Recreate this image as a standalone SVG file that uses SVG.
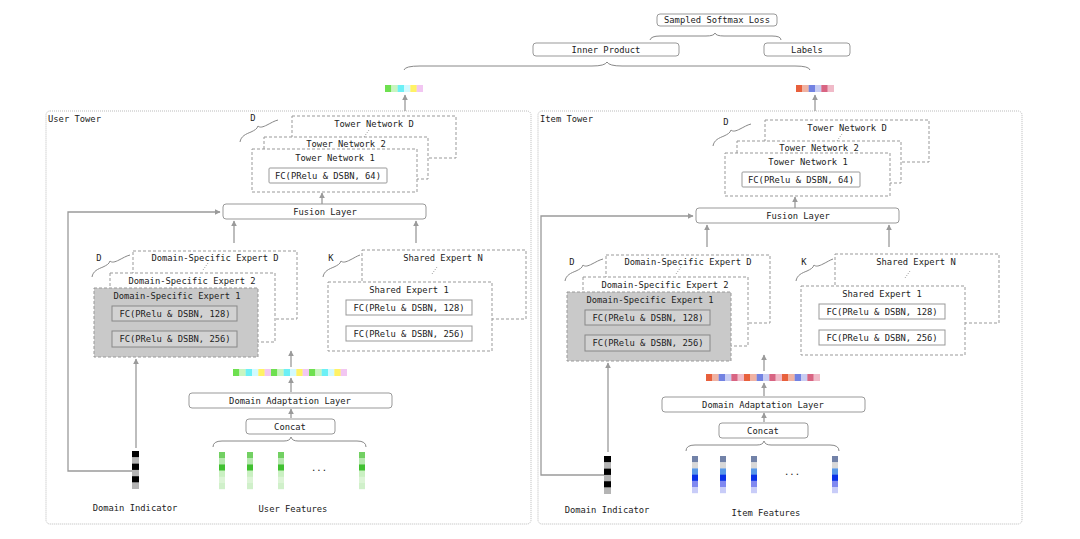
<svg xmlns="http://www.w3.org/2000/svg" xmlns:xlink="http://www.w3.org/1999/xlink" width="1080" height="539" viewBox="0 0 1080 539">
<style>
text{font-family:"DejaVu Sans Mono","Liberation Mono",monospace;font-size:8.8px;fill:#222;text-anchor:middle}
text.tl{text-anchor:start}
.frame{fill:none;stroke:#bbb;stroke-width:1;stroke-dasharray:1 1}
.box{fill:#fff;stroke:#999;stroke-width:1}
.dash{fill:#fff;stroke:#999;stroke-width:1;stroke-dasharray:3 2}
.gdash{fill:#c9c9c9;stroke:#999;stroke-width:1;stroke-dasharray:3 2}
.gbox{fill:#d2d2d2;stroke:#888;stroke-width:1}
.dots{fill:none;stroke:#999;stroke-width:1;stroke-dasharray:1 1.5}
.brace{fill:none;stroke:#888;stroke-width:1}
.arr{fill:none;stroke:#9a9a9a;stroke-width:1.3;marker-end:url(#ah)}
</style>
<defs>
<marker id="ah" viewBox="0 0 10 10" refX="9" refY="5" markerWidth="6" markerHeight="6" orient="auto" markerUnits="userSpaceOnUse"><path d="M0,0 L10,5 L0,10 z" fill="#9a9a9a"/></marker>
<g id="uvec"><rect x="0" y="0" width="6.5" height="7" fill="#6ee050"/><rect x="6.33" y="0" width="6.5" height="7" fill="#c8f5c0"/><rect x="12.67" y="0" width="6.5" height="7" fill="#6cf0f6"/><rect x="19" y="0" width="6.5" height="7" fill="#d2faff"/><rect x="25.33" y="0" width="6.5" height="7" fill="#fff266"/><rect x="31.67" y="0" width="6.33" height="7" fill="#f2c6f2"/></g>
<g id="ivec"><rect x="0" y="0" width="6.5" height="7" fill="#e8603c"/><rect x="6.33" y="0" width="6.5" height="7" fill="#f0b2a2"/><rect x="12.67" y="0" width="6.5" height="7" fill="#7282e2"/><rect x="19" y="0" width="6.5" height="7" fill="#c8ccf2"/><rect x="25.33" y="0" width="6.5" height="7" fill="#d86482"/><rect x="31.67" y="0" width="6.33" height="7" fill="#f0bac8"/></g>
<g id="ucol"><rect x="0" y="0" width="6" height="6.5" fill="#72d062"/><rect x="0" y="6.2" width="6" height="6.5" fill="#b6e8ae"/><rect x="0" y="12.4" width="6" height="6.5" fill="#40c030"/><rect x="0" y="18.6" width="6" height="6.5" fill="#caf0c2"/><rect x="0" y="24.8" width="6" height="6.5" fill="#dcf4d6"/><rect x="0" y="31" width="6" height="6.2" fill="#d0f0ca"/></g>
<g id="icol"><rect x="0" y="0" width="6" height="6.5" fill="#7282a8"/><rect x="0" y="6.2" width="6" height="6.5" fill="#d8d8d8"/><rect x="0" y="12.4" width="6" height="6.5" fill="#5898e8"/><rect x="0" y="18.6" width="6" height="6.5" fill="#0a32e8"/><rect x="0" y="24.8" width="6" height="6.5" fill="#8088f0"/><rect x="0" y="31" width="6" height="6.2" fill="#c8ccf8"/></g>
<g id="dind"><rect x="0" y="0" width="7" height="6.5" fill="#000"/><rect x="0" y="6.3" width="7" height="6.5" fill="#b4b4b4"/><rect x="0" y="12.6" width="7" height="6.5" fill="#000"/><rect x="0" y="18.9" width="7" height="6.5" fill="#b4b4b4"/><rect x="0" y="25.2" width="7" height="6.5" fill="#000"/><rect x="0" y="31.5" width="7" height="6.5" fill="#b4b4b4"/></g>
<g id="ttowers">
<rect class="dash" x="292" y="116" width="164" height="42"/><text x="374" y="127">Tower Network D</text>
<line class="dots" x1="369" y1="130" x2="364" y2="137"/>
<rect class="dash" x="264" y="137" width="164" height="42"/><text x="346" y="147">Tower Network 2</text>
<rect class="dash" x="252" y="149" width="165" height="43"/><text x="335" y="161">Tower Network 1</text>
<rect class="box" x="269" y="168" width="118" height="15" rx="1"/><text x="328" y="178.5">FC(PRelu &amp; DSBN, 64)</text>
<text x="253" y="121">D</text>
<path class="brace" d="M240,142 C241,136 246,134 251,132 C255,130 257,129 258,126 C260,128 263,127 267,125 C271,123 274,121 278,120"/>
</g>
<g id="tdse">
<rect class="dash" x="133" y="251" width="164" height="68"/><text x="215" y="261">Domain-Specific Expert D</text>
<line class="dots" x1="208" y1="263" x2="203" y2="270"/>
<rect class="dash" x="110" y="273" width="165" height="69"/><text x="192" y="284">Domain-Specific Expert 2</text>
<rect class="gdash" x="94" y="288" width="164" height="69"/><text x="177" y="299">Domain-Specific Expert 1</text>
<rect class="gbox" x="112" y="306" width="125" height="15"/><text x="175" y="316.5">FC(PRelu &amp; DSBN, 128)</text>
<rect class="gbox" x="112" y="331" width="125" height="16"/><text x="175" y="342">FC(PRelu &amp; DSBN, 256)</text>
<text x="99" y="261">D</text>
<path class="brace" d="M92,277 C93,271 98,269 103,267 C107,265 109,264 110,261 C112,263 115,262 119,260 C123,258 126,256 130,255"/>
</g>
<g id="tshared">
<rect class="dash" x="362" y="250" width="164" height="69"/><text x="443" y="261">Shared Expert N</text>
<line class="dots" x1="437" y1="267" x2="432" y2="274"/>
<rect class="dash" x="328" y="282" width="164" height="69"/><text x="409" y="293">Shared Expert 1</text>
<rect class="box" x="346" y="300" width="126" height="15"/><text x="409" y="310.5">FC(PRelu &amp; DSBN, 128)</text>
<rect class="box" x="346" y="326" width="126" height="15"/><text x="409" y="336.5">FC(PRelu &amp; DSBN, 256)</text>
<text x="331" y="261">K</text>
<path class="brace" d="M323,277 C324,271 329,269 334,267 C338,265 340,264 341,261 C343,263 346,262 350,260 C354,258 357,256 360,255"/>
</g>
<path id="tfbrace" class="brace" d="M213,447 Q213,441 222,441 L284,441 Q290,441 291,437 Q292,441 298,441 L357,441 Q366,441 366,447"/>
</defs>

<g id="top">
<g id="sampled-softmax-loss"><rect class="box" x="657" y="14" width="120" height="12" rx="3"/><text x="717" y="23">Sampled Softmax Loss</text></g>
<g id="inner-product"><rect class="box" x="533" y="43" width="146" height="13" rx="3"/><text x="606" y="52.5">Inner Product</text></g>
<g id="labels"><rect class="box" x="764" y="43" width="86" height="13" rx="3"/><text x="807" y="52.5">Labels</text></g>
<g id="user-embedding"><use xlink:href="#uvec" x="385" y="85"/></g>
<g id="item-embedding"><use xlink:href="#ivec" x="796" y="85"/></g>
</g>

<g id="user-tower">
<g id="user-tower-frame"><rect class="frame" x="46" y="111" width="485" height="413" rx="4"/><text class="tl" x="48" y="122">User Tower</text></g>
<g id="user-tower-networks"><use xlink:href="#ttowers"/></g>
<g id="user-fusion-layer"><rect class="box" x="223" y="204" width="203" height="15" rx="3"/><text x="325" y="214.5">Fusion Layer</text></g>
<g id="user-domain-experts"><use xlink:href="#tdse"/></g>
<g id="user-shared-experts"><use xlink:href="#tshared"/></g>
<g id="user-adapted-vector"><use xlink:href="#uvec" x="233" y="369"/><use xlink:href="#uvec" x="271" y="369"/><use xlink:href="#uvec" x="309" y="369"/></g>
<g id="user-domain-adaptation"><rect class="box" x="189" y="393" width="203" height="15" rx="3"/><text x="290" y="403.5">Domain Adaptation Layer</text></g>
<g id="user-concat"><rect class="box" x="246" y="419" width="89" height="15" rx="3"/><text x="290" y="429.5">Concat</text></g>
<g id="user-features"><use xlink:href="#tfbrace"/><use xlink:href="#ucol" x="219" y="452"/><use xlink:href="#ucol" x="247" y="452"/><use xlink:href="#ucol" x="278" y="452"/><use xlink:href="#ucol" x="359" y="452"/><text x="319" y="471">...</text><text x="293" y="512">User Features</text></g>
<g id="user-domain-indicator"><use xlink:href="#dind" x="132" y="451"/><text x="135" y="511">Domain Indicator</text></g>
</g>

<g id="item-tower">
<g id="item-tower-frame"><rect class="frame" x="538" y="111" width="484" height="413" rx="4"/><text class="tl" x="540" y="122">Item Tower</text></g>
<g id="item-tower-networks" transform="translate(473,4)"><use xlink:href="#ttowers"/></g>
<g id="item-fusion-layer" transform="translate(473,4)"><rect class="box" x="223" y="204" width="203" height="15" rx="3"/><text x="325" y="214.5">Fusion Layer</text></g>
<g id="item-domain-experts" transform="translate(473,4)"><use xlink:href="#tdse"/></g>
<g id="item-shared-experts" transform="translate(473,4)"><use xlink:href="#tshared"/></g>
<g id="item-adapted-vector" transform="translate(473,5)"><use xlink:href="#ivec" x="233" y="369"/><use xlink:href="#ivec" x="271" y="369"/><use xlink:href="#ivec" x="309" y="369"/></g>
<g id="item-domain-adaptation" transform="translate(473,4)"><rect class="box" x="189" y="393" width="203" height="15" rx="3"/><text x="290" y="403.5">Domain Adaptation Layer</text></g>
<g id="item-concat" transform="translate(473,4)"><rect class="box" x="246" y="419" width="89" height="15" rx="3"/><text x="290" y="429.5">Concat</text></g>
<g id="item-features" transform="translate(473,4)"><use xlink:href="#tfbrace"/><use xlink:href="#icol" x="219" y="452"/><use xlink:href="#icol" x="247" y="452"/><use xlink:href="#icol" x="278" y="452"/><use xlink:href="#icol" x="359" y="452"/><text x="319" y="471">...</text><text x="293" y="512">Item Features</text></g>
<g id="item-domain-indicator" transform="translate(472,5)"><use xlink:href="#dind" x="132" y="451"/><text x="135" y="508">Domain Indicator</text></g>
</g>

<g id="connectors">
<path class="brace" d="M650,40 Q651,36 660,36 L706,36 Q714,36 715,33 Q716,36 724,36 L772,36 Q781,36 781,40"/>
<path class="brace" d="M404,70 Q405,66 420,66 L592,66 Q605,66 607,62 Q609,66 622,66 L795,66 Q809,66 810,70"/>
<path class="arr" d="M405,111 L405,95"/>
<path class="arr" d="M815,111 L815,95"/>
<g id="user-connectors">
<path class="arr" d="M322,204 L322,193"/>
<path class="arr" d="M234,243 L234,221"/>
<path class="arr" d="M416,243 L416,221"/>
<path class="arr" d="M291,367 L291,351"/>
<path class="arr" d="M291,392 L291,378"/>
<path class="arr" d="M291,418 L291,409"/>
<path class="arr" d="M136,448 L136,359"/>
<path class="arr" d="M132,471 L68,471 L68,212 L220,212"/>
</g>
<g id="item-connectors" transform="translate(473,4)">
<path class="arr" d="M322,204 L322,193"/>
<path class="arr" d="M234,243 L234,221"/>
<path class="arr" d="M416,243 L416,221"/>
<path class="arr" d="M291,367 L291,351"/>
<path class="arr" d="M291,392 L291,379"/>
<path class="arr" d="M291,418 L291,409"/>
<path class="arr" d="M135,448 L135,359"/>
<path class="arr" d="M131,471 L68,471 L68,212 L220,212"/>
</g>
</g>
</svg>
